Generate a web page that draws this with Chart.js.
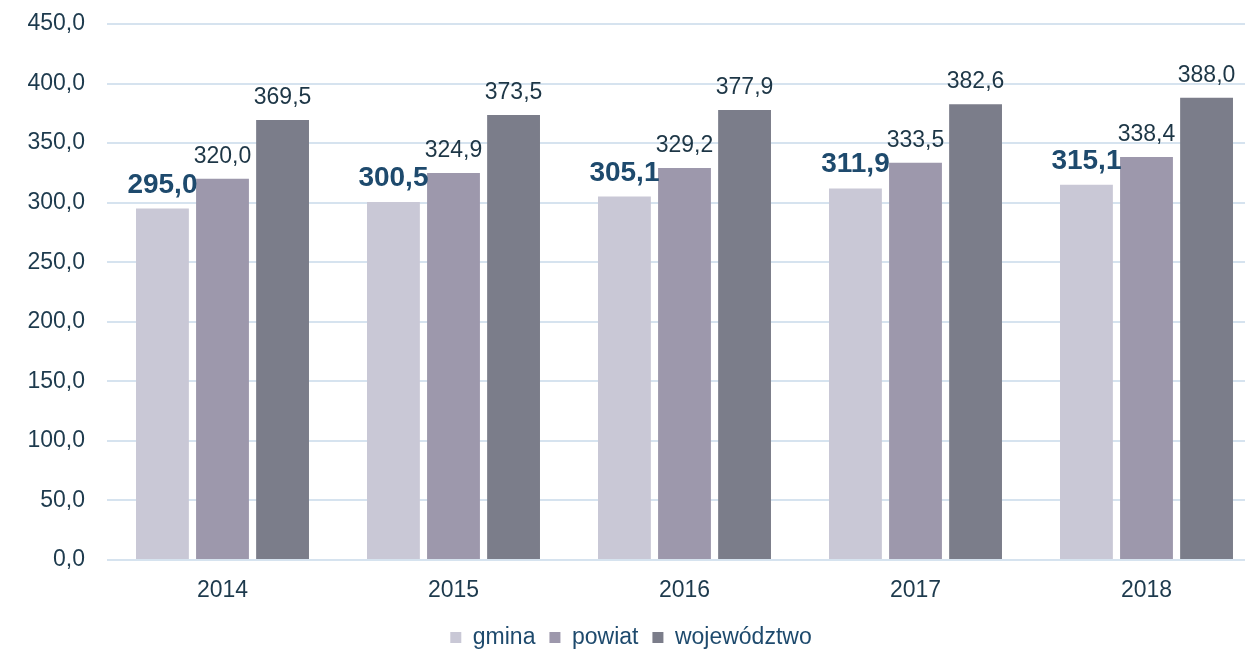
<!DOCTYPE html>
<html>
<head>
<meta charset="utf-8">
<script src="https://cdn.jsdelivr.net/npm/chart.js@4/dist/chart.umd.min.js"></script>
<style>
  html, body { margin: 0; padding: 0; background: #fff; overflow: hidden; }
  #wrap { width: 1262px; height: 649px; }
</style>
</head>
<body>
<div id="wrap"><canvas id="wykres"></canvas></div>
<script>
// lata i wartości
const lata = ['2014', '2015', '2016', '2017', '2018'];
const gmina = [295.0, 300.5, 305.1, 311.9, 315.1];
const powiat = [320.0, 324.9, 329.2, 333.5, 338.4];
const wojewodztwo = [369.5, 373.5, 377.9, 382.6, 388.0];

const fmt = v => v.toFixed(1).replace('.', ',');
const czcionka = '"Liberation Sans", Arial, sans-serif';

// etykiety nad słupkami (gmina pogrubiona)
const etykiety = {
    id: 'etykiety',
    afterDatasetsDraw(chart) {
        const ctx = chart.ctx;
        ctx.save();
        ctx.textAlign = 'center';
        ctx.textBaseline = 'alphabetic';
        chart.data.datasets.forEach((ds, i) => {
            const meta = chart.getDatasetMeta(i);
            meta.data.forEach((bar, j) => {
                if (i === 0) {
                    ctx.font = 'bold 28px ' + czcionka;
                    ctx.fillStyle = '#1e4a6d';
                } else {
                    ctx.font = '23px ' + czcionka;
                    ctx.fillStyle = '#1d3646';
                }
                ctx.fillText(fmt(ds.data[j]), bar.x, bar.y - 16);
            });
        });
        ctx.restore();
    }
};

new Chart(document.getElementById('wykres'), {
    type: 'bar',
    data: {
        labels: lata,
        datasets: [
            { label: 'gmina', data: gmina, backgroundColor: '#c9c8d6' },
            { label: 'powiat', data: powiat, backgroundColor: '#9d98ac' },
            { label: 'województwo', data: wojewodztwo, backgroundColor: '#7b7d8a' }
        ]
    },
    options: {
        responsive: true,
        maintainAspectRatio: false,
        animation: false,
        layout: { padding: { top: 24, right: 0, bottom: -10, left: 0 } },
        datasets: {
            bar: { categoryPercentage: 0.78, barPercentage: 0.88 }
        },
        plugins: {
            legend: {
                position: 'bottom',
                labels: {
                    boxWidth: 11,
                    boxHeight: 11,
                    color: '#1e4a6d',
                    padding: 14,
                    font: { family: czcionka, size: 23 }
                }
            },
            tooltip: { enabled: false }
        },
        scales: {
            x: {
                afterFit: s => { s.height = 52; },
                grid: { display: false },
                border: { display: false },
                ticks: {
                    color: '#1d3a4d',
                    padding: 9,
                    font: { family: czcionka, size: 23 }
                }
            },
            y: {
                min: 0,
                max: 450,
                afterFit: s => { s.width = 107; s.paddingTop = 0; s.paddingBottom = 0; },
                ticks: {
                    stepSize: 50,
                    color: '#1d3a4d',
                    padding: 22,
                    callback: v => fmt(v),
                    font: { family: czcionka, size: 23 }
                },
                grid: { color: '#d6e3ef', lineWidth: 2, drawTicks: false },
                border: { display: false }
            }
        }
    },
    plugins: [etykiety]
});
</script>
</body>
</html>
